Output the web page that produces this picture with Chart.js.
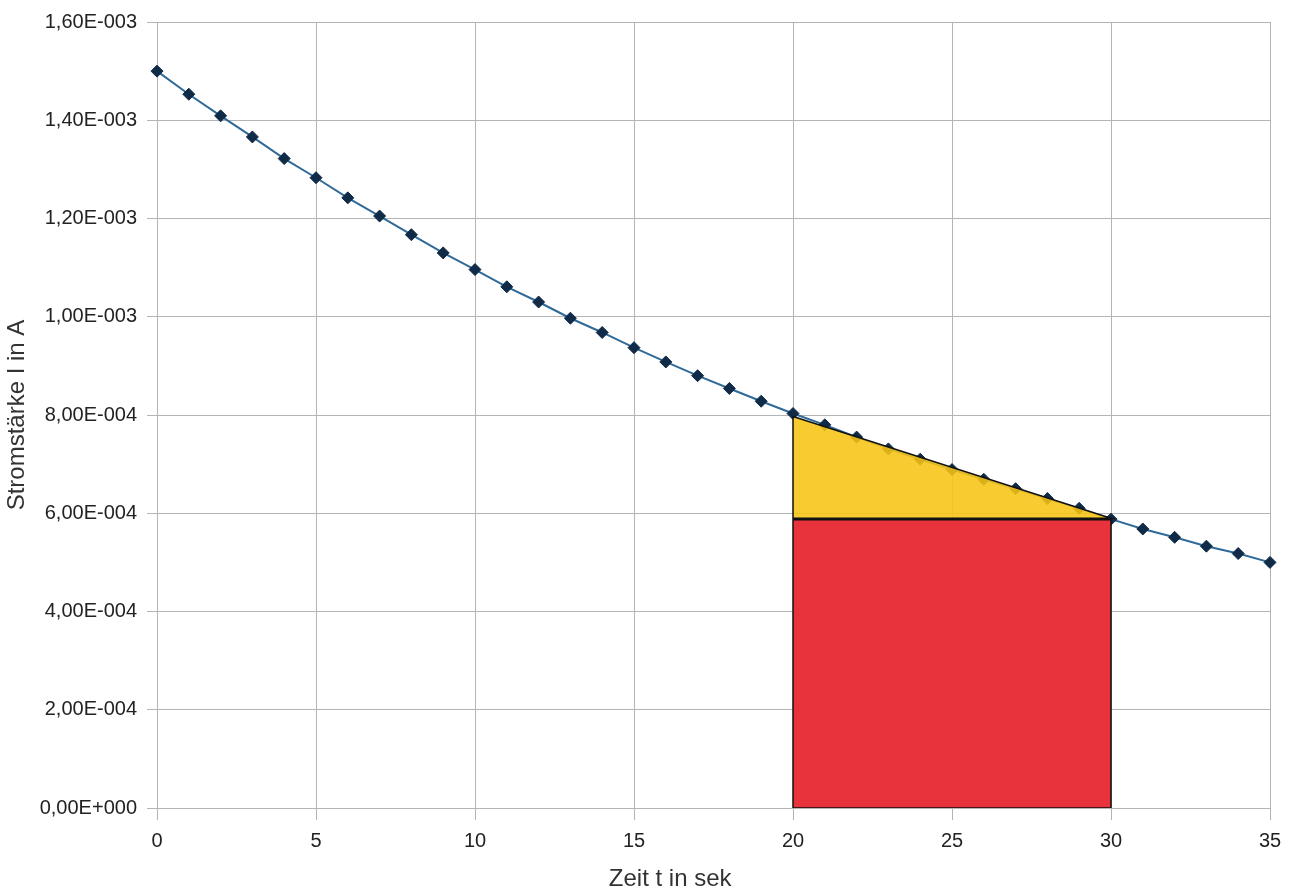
<!DOCTYPE html>
<html>
<head>
<meta charset="utf-8">
<script src="https://cdn.jsdelivr.net/npm/chart.js@4/dist/chart.umd.min.js"></script>
<style>
  html, body { margin: 0; padding: 0; background: #fff; }
  #wrap { width: 1293px; height: 895px; }
</style>
</head>
<body>
<div id="wrap"><canvas id="chart" width="1293" height="895"></canvas></div>
<script>
// Messwerte: Zeit in s und Stromstärke in A
const zeit = [0,1,2,3,4,5,6,7,8,9,10,11,12,13,14,15,16,17,18,19,20,21,22,23,24,25,26,27,28,29,30,31,32,33,34,35];
const strom = [
  1.500e-3, 1.453e-3, 1.409e-3, 1.366e-3, 1.322e-3, 1.283e-3, 1.242e-3, 1.205e-3, 1.167e-3, 1.130e-3,
  1.096e-3, 1.061e-3, 1.030e-3, 0.997e-3, 0.968e-3, 0.937e-3, 0.908e-3, 0.880e-3, 0.854e-3, 0.828e-3,
  0.803e-3, 0.780e-3, 0.755e-3, 0.731e-3, 0.710e-3, 0.689e-3, 0.669e-3, 0.650e-3, 0.630e-3, 0.610e-3,
  0.588e-3, 0.568e-3, 0.551e-3, 0.533e-3, 0.518e-3, 0.500e-3
];

// Dreieck (gelb) und Rechteck (rot) zwischen t = 20 s und t = 30 s
const dreieckX = [20, 30, 20, 20];
const dreieckY = [7.97e-4, 5.9e-4, 5.9e-4, 7.97e-4];
const rechteckX = [20, 20, 30, 30, 20];
const rechteckY = [0, 5.87e-4, 5.87e-4, 0, 0];

const xTicks = [0, 5, 10, 15, 20, 25, 30, 35];
const yTicks = [0, 2e-4, 4e-4, 6e-4, 8e-4, 1e-3, 1.2e-3, 1.4e-3, 1.6e-3];

const toPoints = (xs, ys) => xs.map((x, i) => ({ x: x, y: ys[i] }));

// Format wie in der Tabellenkalkulation: 1,60E-003
function sciLabel(v) {
    if (Math.abs(v) < 1e-12) return "0,00E+000";
    let e = Math.floor(Math.log10(Math.abs(v)));
    let m = v / Math.pow(10, e);
    if (Math.round(m * 100) >= 1000) { m = m / 10; e += 1; }
    if (Math.round(m * 100) < 100) { m = m * 10; e -= 1; }
    return m.toFixed(2).replace(".", ",") + "E" + (e < 0 ? "-" : "+") + String(Math.abs(e)).padStart(3, "0");
}

const gridGrey = "#b4b4b4";
const fontName = "'Liberation Sans', Arial, sans-serif";

new Chart(document.getElementById("chart").getContext("2d"), {
    type: "scatter",
    data: {
        datasets: [
            {
                label: "Dreieck",
                data: toPoints(dreieckX, dreieckY),
                showLine: true,
                fill: "shape",
                backgroundColor: "rgba(247, 196, 20, 0.88)",
                borderColor: "#111",
                borderWidth: 1.5,
                pointRadius: 0,
                tension: 0
            },
            {
                label: "Rechteck",
                data: toPoints(rechteckX, rechteckY),
                showLine: true,
                fill: "shape",
                backgroundColor: "#e8333d",
                borderColor: "#111",
                borderWidth: 1.5,
                pointRadius: 0,
                tension: 0
            },
            {
                label: "Stromstärke",
                data: toPoints(zeit, strom),
                showLine: true,
                fill: false,
                clip: false,
                borderColor: "#2f6a98",
                borderWidth: 2,
                pointStyle: "rectRot",
                pointRadius: 6,
                pointBackgroundColor: "#0f2b48",
                pointBorderColor: "#0f2b48",
                pointBorderWidth: 1,
                tension: 0
            }
        ]
    },
    options: {
        responsive: false,
        animation: false,
        layout: { padding: { left: 0, right: 23, top: 21, bottom: 0 } },
        plugins: {
            legend: { display: false },
            tooltip: { enabled: false }
        },
        scales: {
            x: {
                type: "linear",
                min: 0,
                max: 35,
                afterBuildTicks: (s) => { s.ticks = xTicks.map(v => ({ value: v })); },
                afterFit: (s) => { s.height = 87; },
                grid: { color: gridGrey, lineWidth: 1, tickLength: 12 },
                border: { color: gridGrey },
                ticks: {
                    color: "#222",
                    font: { family: fontName, size: 20 },
                    padding: 9,
                    maxRotation: 0
                },
                title: {
                    display: true,
                    // Titel steht im Original etwas links der Achsenmitte
                    text: "Zeit t in sek" + "\u00a0".repeat(13),
                    color: "#333",
                    font: { family: fontName, size: 24 },
                    padding: { top: 0, bottom: 1 }
                }
            },
            y: {
                type: "linear",
                min: 0,
                max: 1.6e-3,
                afterBuildTicks: (s) => { s.ticks = yTicks.map(v => ({ value: v })); },
                afterFit: (s) => { s.width = 157; },
                grid: { color: gridGrey, lineWidth: 1, tickLength: 10 },
                border: { color: gridGrey },
                ticks: {
                    color: "#222",
                    font: { family: fontName, size: 20 },
                    padding: 10,
                    callback: (v) => sciLabel(v)
                },
                title: {
                    display: true,
                    text: "Stromstärke I in A",
                    color: "#333",
                    font: { family: fontName, size: 24 },
                    padding: { top: 3, bottom: 4 }
                }
            }
        }
    }
});
</script>
</body>
</html>
